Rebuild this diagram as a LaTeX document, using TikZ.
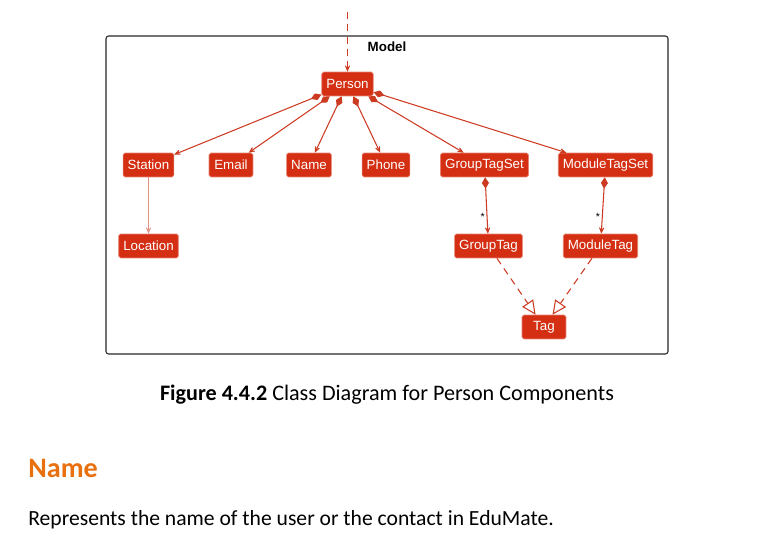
\documentclass[tikz,border=0pt]{standalone}
\usepackage{fontspec}
\setmainfont{Carlito}
\newfontfamily\umlfont{Liberation Sans}
\usetikzlibrary{positioning, arrows.meta}

\definecolor{umlred}{HTML}{D42F13}
\definecolor{umlline}{HTML}{CC3A22}
\definecolor{headorange}{HTML}{E8700F}

\begin{document}
\begin{tikzpicture}[
    x=0.02cm, y=-0.02cm,
    cls/.style={
        rectangle,
        draw=umlred!60!white,
        fill=umlred,
        text=white,
        rounded corners=1pt,
        font=\umlfont\fontsize{7.6}{8}\selectfont,
        minimum height=13.6pt,
        minimum width=25pt,
        inner xsep=2.6pt,
        inner ysep=0pt
    },
    comp/.style={umlline, line width=0.6pt,
        {Diamond[length=6.5pt,width=4pt]}-{Stealth[length=6pt,width=5.2pt,inset=4pt]}},
    assoc/.style={umlline!55!white, line width=0.6pt,
        -{Stealth[length=6pt,width=5.2pt,inset=4pt]}},
    realize/.style={umlline, line width=0.6pt, dash pattern=on 4pt off 3pt,
        -{Triangle[open,length=8pt,width=7.5pt]}},
    mult/.style={font=\umlfont\fontsize{6}{6}\selectfont, text=black, inner sep=1pt}
]
\useasboundingbox (0,0) rectangle (764,550);

% package frame
\draw[black!85, line width=0.6pt, rounded corners=1.5pt] (106,36) rectangle (668,354);
\node[font=\umlfont\bfseries\fontsize{7.6}{8}\selectfont] (model) at (387,47) {Model};

% classes
\node[cls] (person) at (347.5,84) {Person};

\node[cls] (station) at (148.5,165) {Station};
\node[cls] (email) at (231,165) {Email};
\node[cls] (name) at (309,165) {Name};
\node[cls] (phone) at (386,165) {Phone};
\node[cls] (grouptagset) at (484.5,165) {GroupTagSet};
\node[cls] (moduletagset) at (605.5,165) {ModuleTagSet};

\node[cls] (location) at (148.5,246) {Location};
\node[cls] (grouptag) at (488.5,246) {GroupTag};
\node[cls] (moduletag) at (600.5,246) {ModuleTag};

\node[cls] (tag) at (544,327) {Tag};

% incoming dependency
\coordinate (entry) at (347.5,12);
\draw[umlline, line width=0.6pt, dash pattern=on 4pt off 3pt,
    -{Stealth[length=6pt,width=5.2pt,inset=4pt]}] (entry) -- (person);

% composition
\draw[comp] (person) -- (station);
\draw[comp] (person) -- (email);
\draw[comp] (person) -- (name);
\draw[comp] (person) -- (phone);
\draw[comp] (person) -- (grouptagset);
\draw[comp] (person) -- (moduletagset);

\draw[assoc] (station) -- (location);

\draw[comp] (grouptagset) -- node[mult, pos=0.7, left] {*} (grouptag);
\draw[comp] (moduletagset) -- node[mult, pos=0.7, left] {*} (moduletag);

% realization
\draw[realize] (grouptag) -- (tag);
\draw[realize] (moduletag) -- (tag);

% text below
\node[font=\fontsize{12.6}{14}\selectfont] (caption) at (387,395)
    {\textbf{Figure 4.4.2} Class Diagram for Person Components};
\node[anchor=west, inner sep=0pt, text=headorange,
    font=\bfseries\fontsize{16}{18}\selectfont] (namehead) at (28,468) {Name};
\node[anchor=west, inner sep=0pt, font=\fontsize{12.3}{14}\selectfont] (namedesc) at (28,520)
    {Represents the name of the user or the contact in EduMate.};

\end{tikzpicture}
\end{document}
